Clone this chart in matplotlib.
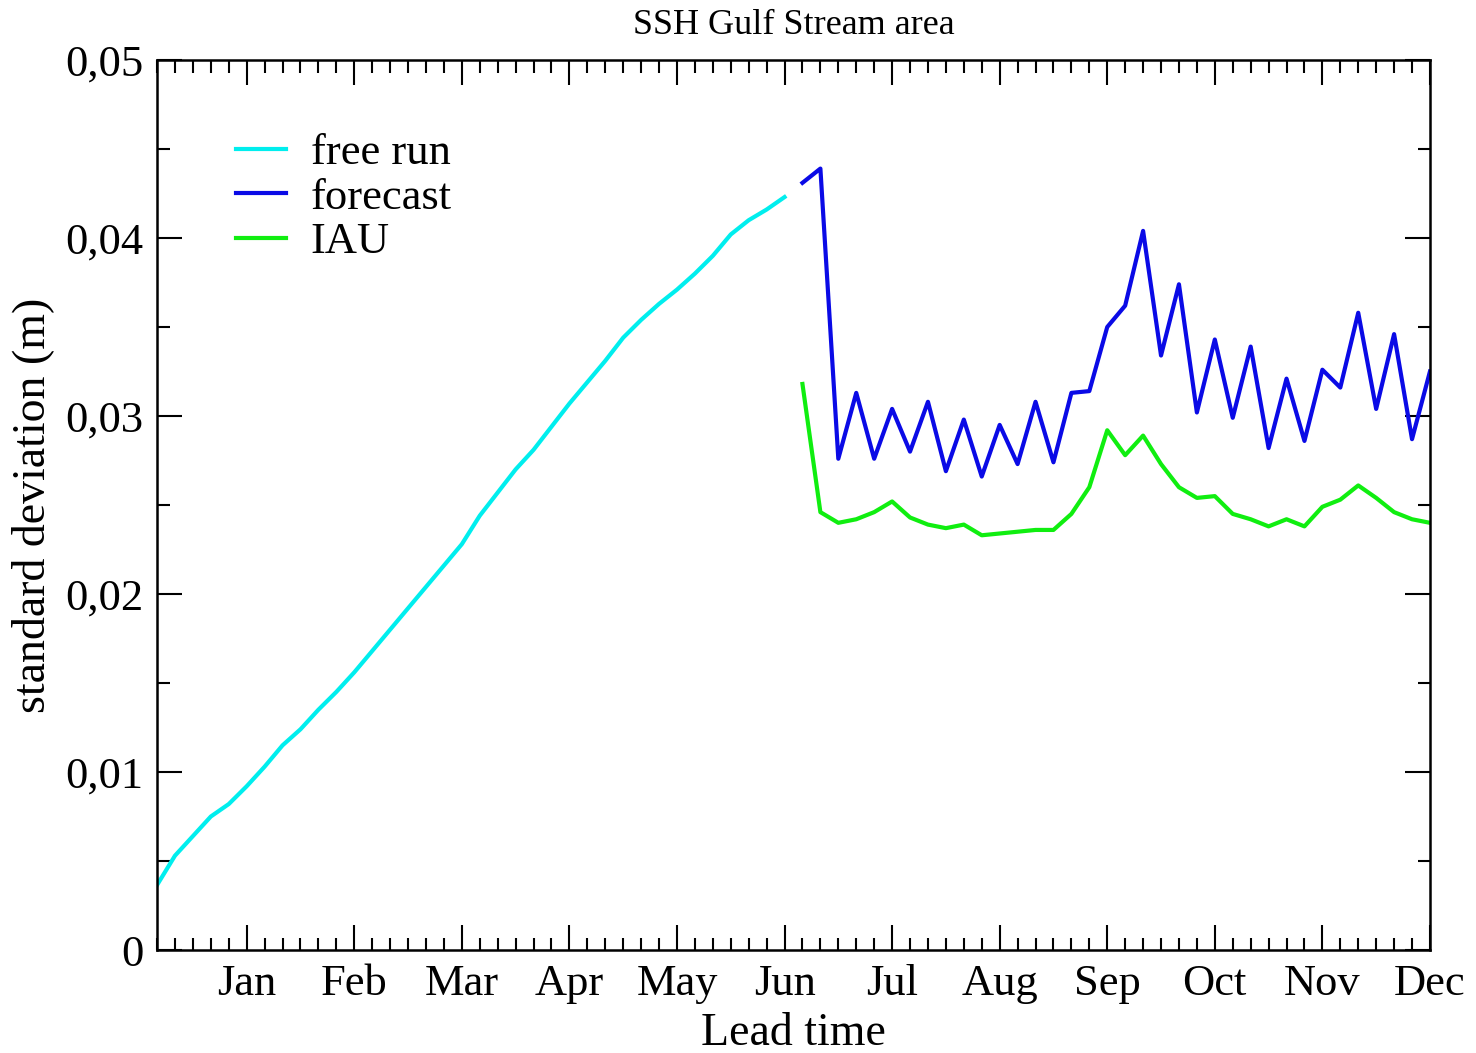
import matplotlib.pyplot as plt
import numpy as np
from matplotlib.ticker import MultipleLocator, FixedLocator

plt.rcParams['font.family'] = ['Liberation Serif', 'DejaVu Serif']

# lead time in days (5-day steps)
days_free = np.arange(5, 185, 5)
days_fc = np.arange(185, 365, 5)

free_run = [0.00365, 0.0053, 0.0064, 0.0075, 0.0082, 0.0092, 0.0103, 0.0115, 0.0124,
            0.0135, 0.0145, 0.0156, 0.0168, 0.0180, 0.0192, 0.0204, 0.0216, 0.0228,
            0.0244, 0.0257, 0.0270, 0.0281, 0.0294, 0.0307, 0.0319, 0.0331, 0.0344,
            0.0354, 0.0363, 0.0371, 0.0380, 0.0390, 0.0402, 0.0410, 0.0416, 0.0423]

forecast = [0.0431, 0.0439, 0.0276, 0.0313, 0.0276, 0.0304, 0.0280, 0.0308, 0.0269,
            0.0298, 0.0266, 0.0295, 0.0273, 0.0308, 0.0274, 0.0313, 0.0314, 0.0350,
            0.0362, 0.0404, 0.0334, 0.0374, 0.0302, 0.0343, 0.0299, 0.0339, 0.0282,
            0.0321, 0.0286, 0.0326, 0.0316, 0.0358, 0.0304, 0.0346, 0.0287, 0.0325]

iau = [0.0318, 0.0246, 0.0240, 0.0242, 0.0246, 0.0252, 0.0243, 0.0239, 0.0237,
       0.0239, 0.0233, 0.0234, 0.0235, 0.0236, 0.0236, 0.0245, 0.0260, 0.0292,
       0.0278, 0.0289, 0.0273, 0.0260, 0.0254, 0.0255, 0.0245, 0.0242, 0.0238,
       0.0242, 0.0238, 0.0249, 0.0253, 0.0261, 0.0254, 0.0246, 0.0242, 0.0240]

month_days = [30, 60, 90, 120, 150, 180, 210, 240, 270, 300, 330, 360]
month_labels = ['Jan', 'Feb', 'Mar', 'Apr', 'May', 'Jun',
                'Jul', 'Aug', 'Sep', 'Oct', 'Nov', 'Dec']

fig = plt.figure(figsize=(14.76, 10.53), dpi=100)
ax = fig.add_axes([0.1064, 0.0978, 0.8624, 0.8452])

ax.plot(days_free, free_run, color='#00eeee', lw=3, label='free run')
ax.plot(days_fc, forecast, color='#0a0ae6', lw=3, label='forecast')
ax.plot(days_fc, iau, color='#10ee10', lw=3, label='IAU')

ax.set_xlim(5, 360)
ax.set_ylim(0, 0.05)

ax.xaxis.set_major_locator(FixedLocator(month_days))
ax.set_xticklabels(month_labels)
ax.xaxis.set_minor_locator(MultipleLocator(5))
ax.yaxis.set_minor_locator(MultipleLocator(0.005))
ax.set_yticks([0, 0.01, 0.02, 0.03, 0.04, 0.05])
ax.set_yticklabels(['0', '0,01', '0,02', '0,03', '0,04', '0,05'])

ax.tick_params(which='both', direction='in', top=True, right=True, width=1.5)
ax.tick_params(which='major', length=18, labelsize=32, pad=10)
ax.tick_params(which='minor', length=9)
for s in ax.spines.values():
    s.set_linewidth(1.8)

ax.set_xlabel('Lead time', fontsize=33, labelpad=6)
ax.set_ylabel('standard deviation (m)', fontsize=33, labelpad=8)
ax.set_title('SSH Gulf Stream area', fontsize=26, pad=19)

ax.legend(loc='upper left', bbox_to_anchor=(0.062, 0.918), frameon=False,
          fontsize=32, handlelength=1.13, handletextpad=0.55, labelspacing=0.1,
          borderpad=0, borderaxespad=0)

fig.savefig('out.png', dpi=100)
